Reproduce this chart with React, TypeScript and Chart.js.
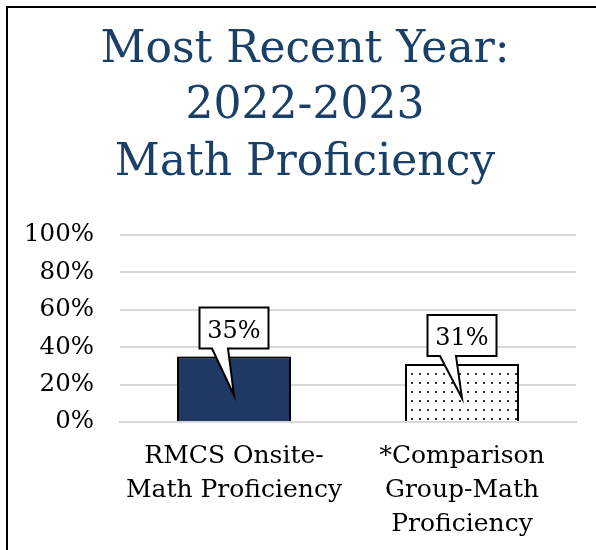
import React, { useEffect, useRef } from "react";
import { Chart, registerables } from "chart.js";

Chart.register(...registerables);

const titleLines = ["Most Recent Year:", "2022-2023", "Math Proficiency"];
const categories = [
  ["RMCS Onsite-", "Math Proficiency"],
  ["*Comparison", "Group-Math", "Proficiency"],
];
const values = [35, 31];
const valueLabels = ["35%", "31%"];
const yTicks = [0, 20, 40, 60, 80, 100];

const FONT = "'DejaVu Serif', serif";

export default function App() {
  const ref = useRef<HTMLCanvasElement | null>(null);

  useEffect(() => {
    const canvas = ref.current;
    if (!canvas) return;

    const pc = document.createElement("canvas");
    pc.width = 8;
    pc.height = 9;
    const pctx = pc.getContext("2d")!;
    pctx.fillStyle = "#ffffff";
    pctx.fillRect(0, 0, 8, 9);
    pctx.fillStyle = "#333333";
    pctx.fillRect(3, 4, 2, 2);
    const pattern = canvas.getContext("2d")!.createPattern(pc, "repeat");

    const decor = {
      id: "decor",
      beforeDatasetsDraw(chart: any) {
        const ctx = chart.ctx;
        ctx.save();
        ctx.shadowColor = "rgba(0,0,0,0.5)";
        ctx.shadowBlur = 8;
        ctx.shadowOffsetX = 0;
        ctx.shadowOffsetY = 0;
      },
      afterDatasetsDraw(chart: any) {
        const ctx = chart.ctx;
        ctx.restore();
        const meta = chart.getDatasetMeta(0);
        meta.data.forEach((bar: any, i: number) => {
          const cx = bar.x;
          const w = 69;
          const h = 41;
          const bottom = bar.y - 8;
          const top = bottom - h;
          const left = cx - w / 2;
          const tipY = bar.y + (bar.base - bar.y) * 0.6;
          ctx.save();
          ctx.beginPath();
          ctx.moveTo(left, top);
          ctx.lineTo(left + w, top);
          ctx.lineTo(left + w, bottom);
          ctx.lineTo(cx - 6, bottom);
          ctx.lineTo(cx, tipY);
          ctx.lineTo(cx - 22, bottom);
          ctx.lineTo(left, bottom);
          ctx.closePath();
          ctx.fillStyle = "#ffffff";
          ctx.fill();
          ctx.lineWidth = 2;
          ctx.strokeStyle = "#000000";
          ctx.lineJoin = "miter";
          ctx.stroke();
          ctx.fillStyle = "#000000";
          ctx.font = `24px ${FONT}`;
          ctx.textAlign = "center";
          ctx.textBaseline = "alphabetic";
          ctx.fillText(valueLabels[i], cx, bottom - 11);
          ctx.restore();
        });
      },
      afterDraw(chart: any) {
        const ctx = chart.ctx;
        ctx.save();
        ctx.fillStyle = "#1a4068";
        ctx.font = `44px ${FONT}`;
        ctx.textAlign = "center";
        ctx.textBaseline = "alphabetic";
        const baselines = [62, 118, 175];
        titleLines.forEach((t, i) => ctx.fillText(t, 305, baselines[i]));
        ctx.restore();
      },
    };

    const chart = new Chart(canvas, {
      type: "bar",
      data: {
        labels: categories as any,
        datasets: [
          {
            data: values,
            backgroundColor: ["#203864", pattern as any],
            borderColor: "#000000",
            borderWidth: 2,
            borderSkipped: "bottom",
            barPercentage: 0.5,
            categoryPercentage: 1,
          },
        ],
      },
      options: {
        animation: false,
        responsive: false,
        devicePixelRatio: 1,
        layout: { padding: { top: 235, right: 20, left: 0, bottom: 0 } },
        plugins: {
          legend: { display: false },
          tooltip: { enabled: false },
          title: { display: false },
        },
        scales: {
          x: {
            grid: { display: false, drawTicks: false },
            border: { display: true, color: "#d9d9d9", width: 2 },
            ticks: {
              color: "#000000",
              font: { family: FONT, size: 25, lineHeight: 1.36 },
              padding: 17,
              maxRotation: 0,
              autoSkip: false,
            },
            afterFit(scale: any) {
              scale.height = 128;
            },
          },
          y: {
            min: 0,
            max: 100,
            afterBuildTicks(scale: any) {
              scale.ticks = yTicks.map((v) => ({ value: v }));
            },
            grid: { color: "#d9d9d9", lineWidth: 2, drawTicks: false },
            border: { display: false },
            ticks: {
              color: "#000000",
              font: { family: FONT, size: 24.5 },
              padding: 26,
              callback: (v: any) => `${v}%`,
            },
            afterFit(scale: any) {
              scale.width = 120;
            },
          },
        },
      },
      plugins: [decor],
    });

    return () => chart.destroy();
  }, []);

  return (
    <div
      style={{
        position: "fixed",
        left: 0,
        top: 0,
        width: 596,
        height: 550,
        background: "#ffffff",
        overflow: "hidden",
      }}
    >
      <div
        style={{
          position: "absolute",
          left: 6,
          top: 6,
          width: 900,
          height: 900,
          borderLeft: "2px solid #000",
          borderTop: "2px solid #000",
        }}
      />
      <canvas
        ref={ref}
        width={596}
        height={550}
        style={{ position: "absolute", left: 0, top: 0, width: 596, height: 550 }}
      />
    </div>
  );
}
